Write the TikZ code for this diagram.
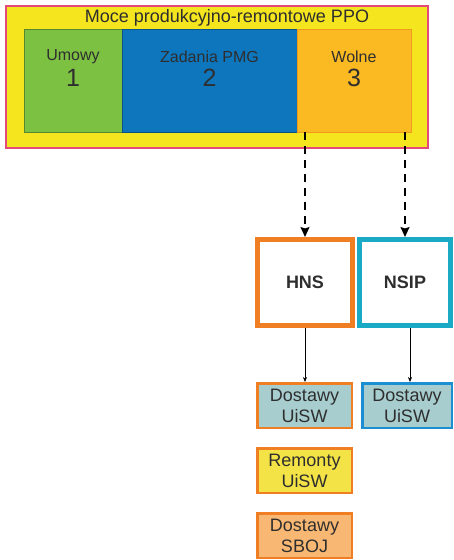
\documentclass[tikz,border=0pt]{standalone}
\usepackage{fontspec}
\setmainfont{Liberation Sans}
\usetikzlibrary{arrows.meta}
\definecolor{bgyellow}{HTML}{F4E51E}
\definecolor{framepink}{HTML}{E24A7C}
\definecolor{cgreen}{HTML}{7DC143}
\definecolor{cblue}{HTML}{0E76BD}
\definecolor{corange}{HTML}{FBBA22}
\definecolor{corangeline}{HTML}{F29A1E}
\definecolor{hnsorange}{HTML}{F07E22}
\definecolor{nsipcyan}{HTML}{1BAAC6}
\definecolor{teal}{HTML}{A8CDCE}
\definecolor{blueline}{HTML}{1C8FD3}
\definecolor{remyellow}{HTML}{F3E346}
\definecolor{sbojorange}{HTML}{F8B873}
\definecolor{txt}{HTML}{2E2E2E}
\tikzset{
  part/.style={draw=#1!70!black, line width=0.6pt, inner sep=0pt, minimum height=103pt},
  bigbox/.style={draw=#1, line width=5pt, fill=white, minimum width=92pt, minimum height=86pt,
    font=\fontsize{18}{18}\selectfont\bfseries, text=txt},
  smallbox/.style={draw=#1, line width=2.5pt, minimum height=44.5pt, align=center, inner sep=0pt,
    font=\fontsize{18}{21}\selectfont, text=txt},
  dasharrow/.style={line width=1.6pt, dash pattern=on 8pt off 6pt, -{Stealth[length=10pt,width=9pt,inset=1.5pt]}},
  thinarrow/.style={line width=0.6pt, -{Stealth[length=5pt,width=4pt]}}
}
\begin{document}
\begin{tikzpicture}[x=1pt,y=-1pt]
\useasboundingbox (0,0) rectangle (454,560);
% outer frame
\node[draw=framepink, fill=bgyellow, line width=2pt, minimum width=422pt, minimum height=142pt, inner sep=0pt]
  (frame) at (216.5,76.5) {};
\node[font=\fontsize{18}{18}\selectfont, text=txt] (title) at (227,18) {Moce produkcyjno-remontowe PPO};
% three parts of the capacity
\node[part=cgreen, fill=cgreen, minimum width=98pt] (umowy) at (73,80.5) {};
\node[part=cblue, fill=cblue, minimum width=175pt] (zadania) at (209.5,80.5) {};
\node[part=corangeline, draw=corangeline, fill=corange, minimum width=114pt] (wolne) at (354,80.5) {};
\foreach \n/\t/\d in {umowy/Umowy/1, zadania/Zadania PMG/2, wolne/Wolne/3}{
  \node[font=\fontsize{16}{16}\selectfont, text=txt] at ([yshift=23.5pt]\n.center) {\t};
  \node[font=\fontsize{25}{25}\selectfont, text=txt] at ([yshift=3pt]\n.center) {\d};
}
% HNS / NSIP
\node[bigbox=hnsorange, minimum width=95pt] (hns) at (305,282.5) {HNS};
\node[bigbox=nsipcyan, minimum width=91pt] (nsip) at (405,282.5) {NSIP};
\draw[dasharrow] (hns.north |- wolne.south) -- (hns.north);
\draw[dasharrow] (nsip.north |- wolne.south) -- (nsip.north);
% deliveries and repairs
\node[smallbox=hnsorange, fill=teal, minimum width=94.5pt] (d1) at (304.5,405.5) {Dostawy\\UiSW};
\node[smallbox=blueline, fill=teal, minimum width=89.5pt] (d2) at (407,405.5) {Dostawy\\UiSW};
\node[smallbox=hnsorange, fill=remyellow, minimum width=94.5pt] (r1) at (304.5,470.5) {Remonty\\UiSW};
\node[smallbox=hnsorange, fill=sbojorange, minimum width=94.5pt] (s1) at (304.5,535.5) {Dostawy\\SBOJ};
\draw[thinarrow] (hns.south) -- (hns.south |- d1.north);
\draw[thinarrow] ([xshift=5pt]nsip.south) -- ([xshift=5pt]nsip.south |- d2.north);
\end{tikzpicture}
\end{document}
